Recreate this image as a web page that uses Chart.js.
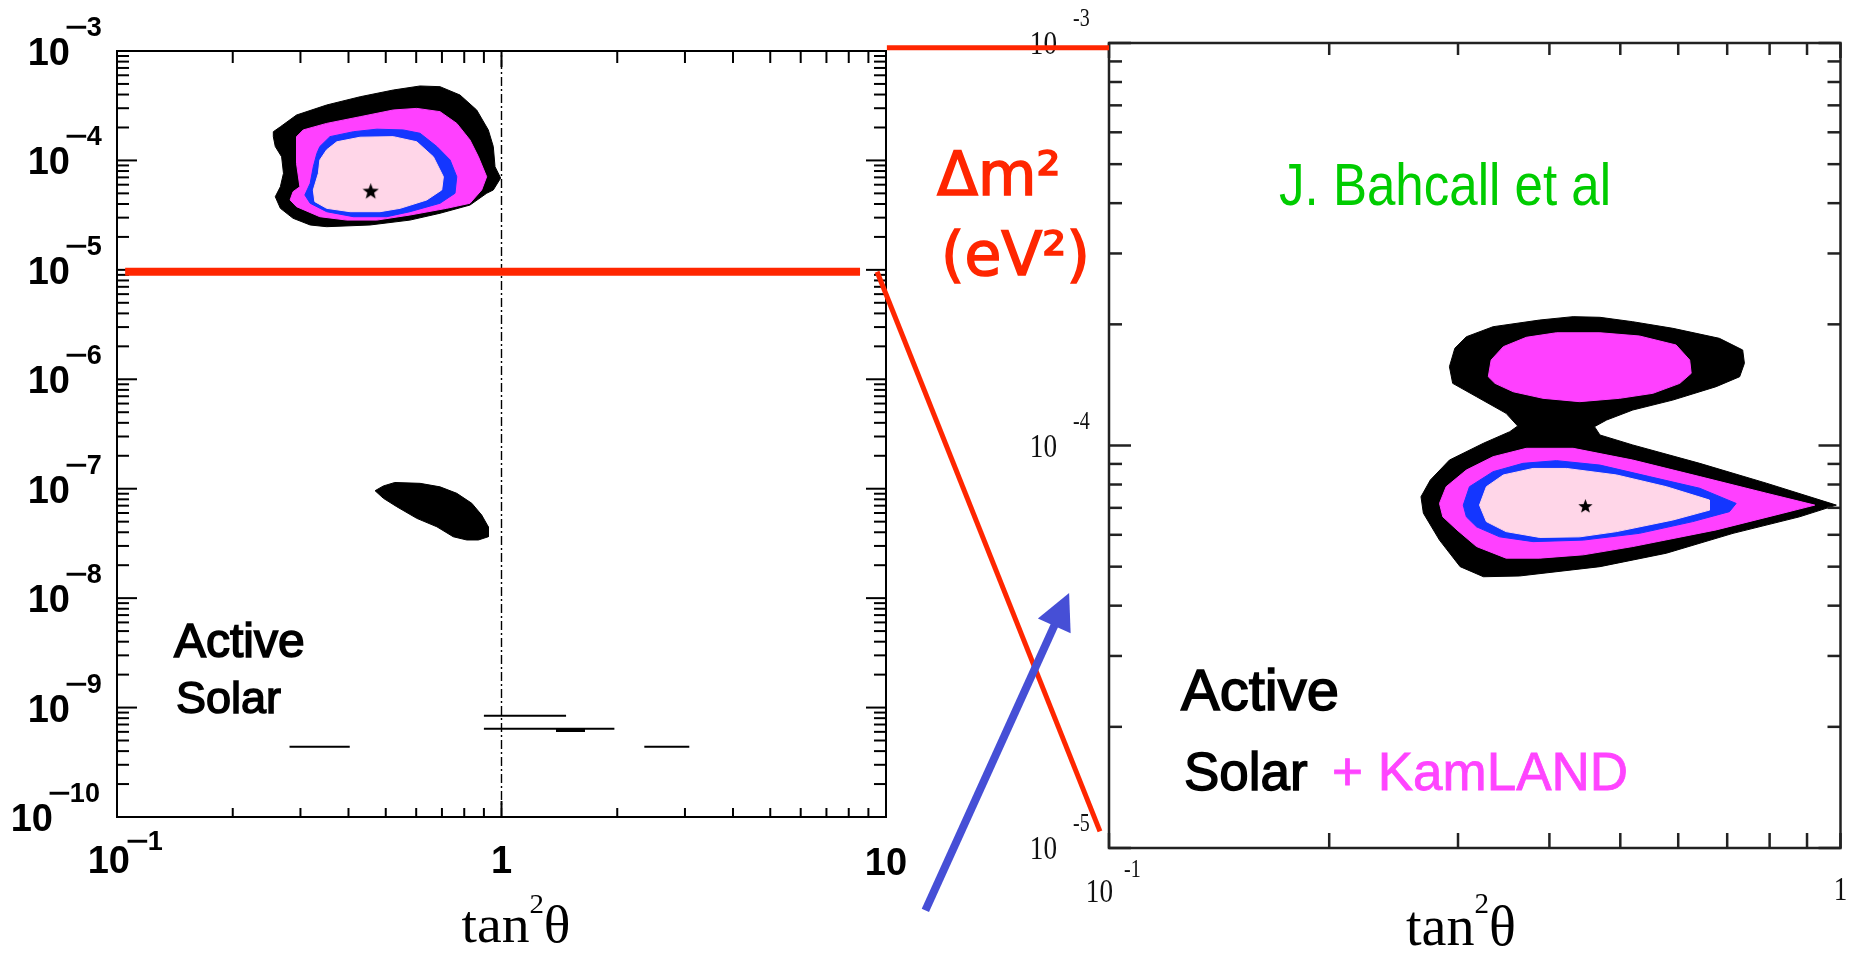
<!DOCTYPE html>
<html>
<head>
<meta charset="utf-8">
<title>Active Solar / Solar + KamLAND</title>
<script src="https://cdn.jsdelivr.net/npm/chart.js@4.4.1/dist/chart.umd.min.js"></script>
<style>
    html, body { margin: 0; padding: 0; background: #fff; }
    #wrap { position: relative; width: 1849px; height: 953px; }
    #wrap canvas { position: absolute; left: 0; top: 0; }
</style>
</head>
<body>
<div id="wrap">
    <canvas id="solarCanvas" width="1849" height="953"></canvas>
    <canvas id="kamlandCanvas" width="1849" height="953"></canvas>
</div>
<script>
"use strict";

// ---- left panel: Active Solar, [tan^2 theta, dm^2 (eV^2)] ----
const solarLma3sigma = [
    [0.255, 1.83e-4], [0.266, 2.03e-4], [0.293, 2.60e-4], [0.351, 3.21e-4], [0.429, 3.82e-4],
    [0.523, 4.40e-4], [0.614, 4.79e-4], [0.692, 4.72e-4], [0.780, 3.96e-4], [0.862, 2.89e-4],
    [0.924, 1.90e-4], [0.952, 1.34e-4], [0.962, 8.76e-5], [0.995, 6.90e-5], [0.952, 5.37e-5],
    [0.915, 5.01e-5], [0.828, 3.91e-5], [0.692, 3.29e-5], [0.578, 2.85e-5], [0.455, 2.57e-5],
    [0.351, 2.48e-5], [0.318, 2.57e-5], [0.287, 2.96e-5], [0.266, 3.65e-5], [0.258, 4.66e-5],
    [0.266, 5.75e-5], [0.271, 7.63e-5], [0.268, 1.08e-4], [0.258, 1.34e-4], [0.255, 1.65e-4]
];
const solarLma99 = [
    [0.293, 1.65e-4], [0.305, 1.90e-4], [0.351, 2.18e-4], [0.429, 2.51e-4], [0.523, 2.89e-4],
    [0.602, 2.99e-4], [0.692, 2.79e-4], [0.765, 2.18e-4], [0.828, 1.54e-4], [0.871, 1.08e-4],
    [0.915, 7.10e-5], [0.888, 5.37e-5], [0.828, 4.06e-5], [0.720, 3.65e-5], [0.578, 3.17e-5],
    [0.474, 2.85e-5], [0.396, 2.85e-5], [0.337, 3.06e-5], [0.293, 3.78e-5], [0.282, 4.35e-5],
    [0.287, 5.18e-5], [0.299, 5.75e-5], [0.293, 9.41e-5], [0.293, 1.34e-4]
];
const solarLma95 = [
    [0.337, 1.34e-4], [0.358, 1.65e-4], [0.412, 1.83e-4], [0.474, 1.93e-4], [0.555, 1.90e-4],
    [0.614, 1.77e-4], [0.679, 1.34e-4], [0.735, 1.01e-4], [0.765, 7.10e-5], [0.757, 5.01e-5],
    [0.692, 4.06e-5], [0.578, 3.40e-5], [0.503, 3.06e-5], [0.412, 3.06e-5], [0.351, 3.40e-5],
    [0.318, 4.06e-5], [0.308, 4.83e-5], [0.318, 6.18e-5], [0.324, 8.76e-5], [0.331, 1.16e-4]
];
const solarLma90 = [
    [0.351, 1.25e-4], [0.373, 1.48e-4], [0.429, 1.63e-4], [0.523, 1.65e-4], [0.602, 1.48e-4],
    [0.665, 1.08e-4], [0.706, 7.10e-5], [0.699, 5.37e-5], [0.639, 4.35e-5], [0.545, 3.65e-5],
    [0.483, 3.40e-5], [0.404, 3.40e-5], [0.351, 3.65e-5], [0.327, 4.20e-5], [0.324, 5.37e-5],
    [0.334, 7.63e-5], [0.337, 1.01e-4]
];
const solarLow3sigma = [
    [0.469, 9.59e-8], [0.493, 1.06e-7], [0.528, 1.14e-7], [0.614, 1.12e-7], [0.692, 1.04e-7],
    [0.765, 9.08e-8], [0.837, 7.36e-8], [0.888, 5.75e-8], [0.924, 4.49e-8], [0.924, 3.64e-8],
    [0.871, 3.40e-8], [0.812, 3.40e-8], [0.749, 3.64e-8], [0.679, 4.49e-8], [0.602, 5.36e-8],
    [0.534, 6.85e-8], [0.493, 8.17e-8]
];
// thin vacuum islands: [tan2 from, tan2 to, dm2]
const solarVacIslands = [
    [0.281, 0.403, 4.39e-10], [0.900, 1.472, 8.43e-10], [0.900, 1.966, 6.42e-10], [2.352, 3.079, 4.39e-10]
];
const solarVacThick = [1.386, 1.649, 6.24e-10];
const solarBestFit = [0.457, 5.18e-5];

// ---- right panel: Solar + KamLAND ----
const kamland3sigma = [
    [0.292, 1.570e-4], [0.297, 1.744e-4], [0.308, 1.863e-4], [0.335, 1.973e-4], [0.388, 2.050e-4],
    [0.431, 2.090e-4], [0.469, 2.082e-4], [0.520, 2.030e-4], [0.590, 1.955e-4], [0.683, 1.846e-4],
    [0.735, 1.727e-4], [0.739, 1.600e-4], [0.728, 1.482e-4], [0.676, 1.400e-4], [0.590, 1.297e-4],
    [0.520, 1.225e-4], [0.479, 1.157e-4], [0.461, 1.114e-4], [0.469, 1.062e-4], [0.520, 1.003e-4],
    [0.642, 9.03e-5], [0.792, 8.06e-5], [0.987, 7.11e-5], [0.879, 6.65e-5], [0.713, 6.05e-5],
    [0.578, 5.40e-5], [0.469, 5.00e-5], [0.364, 4.74e-5], [0.325, 4.72e-5], [0.302, 5.00e-5],
    [0.283, 5.82e-5], [0.269, 6.79e-5], [0.267, 7.46e-5], [0.275, 8.21e-5], [0.292, 9.20e-5],
    [0.325, 1.013e-4], [0.353, 1.082e-4], [0.362, 1.118e-4], [0.349, 1.202e-4], [0.318, 1.322e-4],
    [0.295, 1.427e-4]
];
const kamland99Upper = [
    [0.330, 1.482e-4], [0.333, 1.631e-4], [0.346, 1.760e-4], [0.372, 1.857e-4], [0.409, 1.906e-4],
    [0.469, 1.906e-4], [0.531, 1.871e-4], [0.596, 1.777e-4], [0.622, 1.631e-4], [0.625, 1.511e-4],
    [0.603, 1.427e-4], [0.554, 1.348e-4], [0.499, 1.310e-4], [0.440, 1.285e-4], [0.392, 1.310e-4],
    [0.357, 1.360e-4], [0.337, 1.427e-4]
];
const kamland99Lower = [
    [0.283, 7.18e-5], [0.289, 7.90e-5], [0.308, 8.69e-5], [0.335, 9.38e-5], [0.372, 9.84e-5],
    [0.431, 9.84e-5], [0.520, 9.20e-5], [0.642, 8.37e-5], [0.792, 7.61e-5], [0.922, 7.11e-5],
    [0.834, 6.79e-5], [0.676, 6.17e-5], [0.520, 5.61e-5], [0.445, 5.35e-5], [0.388, 5.25e-5],
    [0.349, 5.25e-5], [0.318, 5.61e-5], [0.299, 6.17e-5], [0.286, 6.65e-5]
];
const kamland95 = [
    [0.305, 7.11e-5], [0.311, 7.90e-5], [0.335, 8.61e-5], [0.368, 9.03e-5], [0.409, 9.17e-5],
    [0.469, 8.94e-5], [0.548, 8.37e-5], [0.642, 7.83e-5], [0.720, 7.18e-5], [0.705, 6.85e-5],
    [0.628, 6.47e-5], [0.531, 6.05e-5], [0.445, 5.82e-5], [0.380, 5.77e-5], [0.342, 5.93e-5],
    [0.318, 6.28e-5], [0.308, 6.65e-5]
];
const kamland90 = [
    [0.321, 7.11e-5], [0.328, 7.90e-5], [0.346, 8.45e-5], [0.380, 8.77e-5], [0.422, 8.77e-5],
    [0.494, 8.45e-5], [0.578, 7.90e-5], [0.662, 7.32e-5], [0.662, 6.91e-5], [0.590, 6.53e-5],
    [0.494, 6.11e-5], [0.440, 5.93e-5], [0.388, 5.91e-5], [0.349, 6.11e-5], [0.328, 6.47e-5]
];
const kamlandBestFit = [0.448, 7.05e-5];

// ---- axes / ticks ----
const leftXMajor = [0.1, 1, 10];
const leftXMinor = [0.2, 0.3, 0.4, 0.5, 0.6, 0.7, 0.8, 0.9, 2, 3, 4, 5, 6, 7, 8, 9];
const leftYExponents = [-3, -4, -5, -6, -7, -8, -9, -10];
const rightXMajor = [0.1, 1];
const rightXMinor = [0.2, 0.3, 0.4, 0.5, 0.6, 0.7, 0.8, 0.9];
const rightYExponents = [-3, -4, -5];
const minorMantissas = [2, 3, 4, 5, 6, 7, 8, 9];

// ---- annotations (in panel coordinates) ----
const zoomBandLeft = [[0.105, 9.6e-6], [8.56, 9.6e-6]];      // left panel
const zoomDiagFromLeft = [9.48, 9.6e-6];                      // left panel
const zoomDiagToRight = [0.0972, 1.10e-5];                    // right panel
const zoomTopRight = [[0.0497, 9.73e-4], [0.1, 9.73e-4]];     // right panel
const arrowRight = [[0.0561, 7.0e-6], [0.0882, 4.30e-5]];     // right panel, tail -> tip

const BLACK = '#000000';
const MAGENTA = '#ff40ff';
const BLUE = '#1436ff';
const PINK = '#ffd6e8';
const RED = '#ff2600';
const SANS = '"Liberation Sans", Arial, Helvetica, sans-serif';
const SERIF = '"Liberation Serif", "Times New Roman", serif';

function makeStar(size) {
    const c = document.createElement('canvas');
    c.width = size;
    c.height = size;
    const g = c.getContext('2d');
    g.fillStyle = '#000';
    g.beginPath();
    for (let i = 0; i < 10; i++) {
        const r = i % 2 ? size * 0.21 : size * 0.5;
        const ang = -Math.PI / 2 + i * Math.PI / 5;
        g.lineTo(size / 2 + r * Math.cos(ang), size / 2 + r * Math.sin(ang));
    }
    g.closePath();
    g.fill();
    return c;
}

function toXY(points) {
    return points.map(p => ({x: p[0], y: p[1]}));
}

function region(points, color, order) {
    const data = toXY(points);
    data.push({x: points[0][0], y: points[0][1]});
    return {
        data: data,
        borderColor: color,
        backgroundColor: color,
        borderWidth: 1,
        fill: 'shape',
        pointRadius: 0,
        tension: 0,
        order: order
    };
}

function hLine(from, to, y, width, order) {
    return {
        data: [{x: from, y: y}, {x: to, y: y}],
        borderColor: BLACK,
        borderWidth: width,
        fill: false,
        pointRadius: 0,
        order: order
    };
}

function bestFit(point, size) {
    return {
        data: toXY([point]),
        showLine: false,
        pointStyle: makeStar(size),
        pointRadius: size / 2,
        order: 0
    };
}

function seg(ctx, x1, y1, x2, y2) {
    ctx.beginPath();
    ctx.moveTo(x1, y1);
    ctx.lineTo(x2, y2);
    ctx.stroke();
}

function scaledText(ctx, text, x, y, font, align, sx) {
    ctx.save();
    ctx.translate(x, y);
    ctx.scale(sx, 1);
    ctx.font = font;
    ctx.textAlign = align;
    ctx.textBaseline = 'alphabetic';
    ctx.fillText(text, 0, 0);
    ctx.restore();
}

// ROOT style exponent with a wide minus sign
function rootExponent(ctx, digits, x, baseline, size) {
    ctx.save();
    ctx.font = 'bold ' + size + 'px ' + SANS;
    ctx.textAlign = 'left';
    ctx.textBaseline = 'alphabetic';
    const mw = ctx.measureText('\u2212').width * 1.45;
    ctx.translate(x, baseline);
    ctx.save();
    ctx.scale(1.45, 1);
    ctx.fillText('\u2212', 0, 0);
    ctx.restore();
    ctx.fillText(digits, mw - 1, 0);
    ctx.restore();
}

function boldText(ctx, text, x, y, size, color, weight) {
    ctx.save();
    ctx.font = size + 'px ' + SANS;
    ctx.fillStyle = color;
    ctx.strokeStyle = color;
    ctx.lineWidth = weight || size / 30;
    ctx.textAlign = 'left';
    ctx.textBaseline = 'alphabetic';
    ctx.fillText(text, x, y);
    ctx.strokeText(text, x, y);
    ctx.restore();
}

function tan2Theta(ctx, cx, baseline, size, targetW) {
    const big = size + 'px ' + SERIF;
    const small = Math.round(size * 0.52) + 'px ' + SERIF;
    ctx.save();
    ctx.font = big;
    const w1 = ctx.measureText('tan').width;
    const w3 = ctx.measureText('\u03b8').width;
    ctx.font = small;
    const w2 = ctx.measureText('2').width;
    const k = targetW / (w1 + w2 + w3);
    ctx.translate(cx - targetW / 2, baseline);
    ctx.scale(k, 1);
    ctx.fillStyle = '#000';
    ctx.textAlign = 'left';
    ctx.textBaseline = 'alphabetic';
    ctx.font = big;
    ctx.fillText('tan', 0, 0);
    ctx.font = small;
    ctx.fillText('2', w1, -size * 0.56);
    ctx.font = big;
    ctx.fillText('\u03b8', w1 + w2, 0);
    ctx.restore();
}

function frameAndTicks(chart, o) {
    const {ctx, chartArea: a} = chart;
    const sx = chart.scales.x;
    const sy = chart.scales.y;

    ctx.save();
    ctx.strokeStyle = o.color;
    ctx.lineCap = 'butt';
    ctx.lineWidth = o.tickWidth;

    o.xMinor.forEach(v => {
        const px = sx.getPixelForValue(v);
        seg(ctx, px, a.bottom, px, a.bottom - o.xBottomLen);
        seg(ctx, px, a.top, px, a.top + o.xTopLen);
    });
    o.xMajor.forEach(v => {
        const px = sx.getPixelForValue(v);
        seg(ctx, px, a.bottom, px, a.bottom - o.xMajorLen);
        seg(ctx, px, a.top, px, a.top + o.xMajorLen);
    });

    o.yExponents.forEach(e => {
        const py = sy.getPixelForValue(Math.pow(10, e));
        seg(ctx, a.left, py, a.left + o.yMajorLen, py);
        seg(ctx, a.right, py, a.right - o.yMajorLen, py);
        minorMantissas.forEach(m => {
            const v = m * Math.pow(10, e);
            if (v >= sy.max) {
                return;
            }
            const pm = sy.getPixelForValue(v);
            seg(ctx, a.left, pm, a.left + o.yMinorLen, pm);
            seg(ctx, a.right, pm, a.right - o.yMinorLen, pm);
        });
    });

    ctx.lineWidth = o.frameWidth;
    ctx.strokeRect(a.left, a.top, a.right - a.left, a.bottom - a.top);
    ctx.restore();
}

// ---------------- left panel ----------------
const solarDecor = {
    id: 'solarDecor',
    afterDraw: (chart) => {
        const {ctx, chartArea: a} = chart;
        const sx = chart.scales.x;
        const sy = chart.scales.y;

        frameAndTicks(chart, {
            color: '#000', frameWidth: 2, tickWidth: 2,
            xMajor: leftXMajor, xMinor: leftXMinor,
            xBottomLen: 9, xTopLen: 12, xMajorLen: 16,
            yExponents: leftYExponents, yMajorLen: 20, yMinorLen: 12
        });

        ctx.save();
        ctx.fillStyle = '#000';

        // y labels 10^-n
        leftYExponents.forEach(e => {
            const py = sy.getPixelForValue(Math.pow(10, e));
            const digits = String(Math.abs(e));
            const tenRight = a.left - (digits.length > 1 ? 64 : 47);
            ctx.font = 'bold 38px ' + SANS;
            ctx.textAlign = 'right';
            ctx.textBaseline = 'alphabetic';
            ctx.fillText('10', tenRight, py + 14);
            rootExponent(ctx, digits, tenRight - 5, py - 15, 27);
        });

        // x labels
        const p01 = sx.getPixelForValue(0.1);
        ctx.font = 'bold 38px ' + SANS;
        ctx.textAlign = 'right';
        ctx.fillText('10', p01 + 13, a.bottom + 56);
        rootExponent(ctx, '1', p01 + 9, a.bottom + 33, 27);
        ctx.textAlign = 'center';
        ctx.fillText('1', sx.getPixelForValue(1), a.bottom + 56);
        ctx.fillText('10', sx.getPixelForValue(10), a.bottom + 58);

        tan2Theta(ctx, 516, a.bottom + 125, 52, 109);

        boldText(ctx, 'Active', 174, 657, 48, '#000');
        boldText(ctx, 'Solar', 176, 713, 45, '#000');

        // zoom band marker
        ctx.strokeStyle = RED;
        ctx.lineWidth = 8;
        seg(ctx,
            sx.getPixelForValue(zoomBandLeft[0][0]), sy.getPixelForValue(zoomBandLeft[0][1]),
            sx.getPixelForValue(zoomBandLeft[1][0]), sy.getPixelForValue(zoomBandLeft[1][1]));
        ctx.restore();
    }
};

const solarDatasets = [
    {
        data: [{x: 1, y: 1e-10}, {x: 1, y: 1e-3}],
        borderColor: '#000',
        borderWidth: 1.4,
        borderDash: [9, 3, 2, 3],
        fill: false,
        pointRadius: 0,
        order: 10
    },
    region(solarLma3sigma, BLACK, 5),
    region(solarLma99, MAGENTA, 4),
    region(solarLma95, BLUE, 3),
    region(solarLma90, PINK, 2),
    region(solarLow3sigma, BLACK, 5),
    bestFit(solarBestFit, 17)
];
solarVacIslands.forEach(v => solarDatasets.push(hLine(v[0], v[1], v[2], 2, 6)));
solarDatasets.push(hLine(solarVacThick[0], solarVacThick[1], solarVacThick[2], 4, 6));

const solarChart = new Chart(document.getElementById('solarCanvas'), {
    type: 'line',
    data: {datasets: solarDatasets},
    options: {
        responsive: false,
        animation: false,
        devicePixelRatio: 1,
        events: [],
        layout: {padding: {left: 117, top: 51, right: 963, bottom: 136}},
        plugins: {legend: {display: false}, tooltip: {enabled: false}},
        scales: {
            x: {type: 'logarithmic', min: 0.1, max: 10, display: false},
            y: {type: 'logarithmic', min: 1e-10, max: 1e-3, display: false}
        }
    },
    plugins: [solarDecor]
});

// ---------------- right panel ----------------
const kamlandDecor = {
    id: 'kamlandDecor',
    afterDraw: (chart) => {
        const {ctx, chartArea: a} = chart;
        const sx = chart.scales.x;
        const sy = chart.scales.y;

        frameAndTicks(chart, {
            color: '#222', frameWidth: 2.5, tickWidth: 2.5,
            xMajor: rightXMajor, xMinor: rightXMinor,
            xBottomLen: 15, xTopLen: 12, xMajorLen: 15,
            yExponents: rightYExponents, yMajorLen: 22, yMinorLen: 13
        });

        ctx.save();
        ctx.fillStyle = '#111';
        rightYExponents.forEach(e => {
            const py = sy.getPixelForValue(Math.pow(10, e));
            scaledText(ctx, '10', a.left - 52, py + 11, '34px ' + SERIF, 'right', 0.8);
            scaledText(ctx, '-' + Math.abs(e), a.left - 36, py - 17, '25px ' + SERIF, 'left', 0.8);
        });
        const p01 = sx.getPixelForValue(0.1);
        scaledText(ctx, '10', p01 + 4, a.bottom + 54, '34px ' + SERIF, 'right', 0.8);
        scaledText(ctx, '-1', p01 + 15, a.bottom + 29, '25px ' + SERIF, 'left', 0.8);
        scaledText(ctx, '1', sx.getPixelForValue(1), a.bottom + 52, '34px ' + SERIF, 'center', 0.8);

        tan2Theta(ctx, 1461, a.bottom + 97, 58, 110);

        // green credit, condensed to its width in the original
        ctx.save();
        ctx.font = '60px ' + SANS;
        const credit = 'J. Bahcall et al';
        const cw = ctx.measureText(credit).width;
        ctx.fillStyle = '#00cc00';
        scaledText(ctx, credit, 1279, 205, '60px ' + SANS, 'left', 332 / cw);
        ctx.restore();

        boldText(ctx, 'Active', 1181, 710, 58, '#000', 1.6);
        boldText(ctx, 'Solar', 1184, 790, 53, '#000', 1.4);
        boldText(ctx, '+ KamLAND', 1332, 790, 53, '#ff44ff', 0.8);

        // axis quantity
        ctx.fillStyle = RED;
        ctx.strokeStyle = RED;
        ctx.lineWidth = 1.6;
        ctx.font = '60px "DejaVu Sans", sans-serif';
        ctx.textAlign = 'left';
        ctx.fillText('\u0394m\u00b2', 937, 195);
        ctx.strokeText('\u0394m\u00b2', 937, 195);
        ctx.fillText('(eV\u00b2)', 941, 275);
        ctx.strokeText('(eV\u00b2)', 941, 275);

        // red zoom connectors
        const ls = solarChart.scales;
        ctx.strokeStyle = RED;
        ctx.lineWidth = 5;
        seg(ctx,
            sx.getPixelForValue(zoomTopRight[0][0]), sy.getPixelForValue(zoomTopRight[0][1]),
            sx.getPixelForValue(zoomTopRight[1][0]), sy.getPixelForValue(zoomTopRight[1][1]));
        seg(ctx,
            ls.x.getPixelForValue(zoomDiagFromLeft[0]), ls.y.getPixelForValue(zoomDiagFromLeft[1]),
            sx.getPixelForValue(zoomDiagToRight[0]), sy.getPixelForValue(zoomDiagToRight[1]));

        // blue arrow
        const tx = sx.getPixelForValue(arrowRight[0][0]);
        const ty = sy.getPixelForValue(arrowRight[0][1]);
        const hx = sx.getPixelForValue(arrowRight[1][0]);
        const hy = sy.getPixelForValue(arrowRight[1][1]);
        const len = Math.hypot(hx - tx, hy - ty);
        const ux = (hx - tx) / len;
        const uy = (hy - ty) / len;
        const bx = hx - ux * 36;
        const by = hy - uy * 36;
        ctx.strokeStyle = '#464fd6';
        ctx.fillStyle = '#464fd6';
        ctx.lineWidth = 8;
        seg(ctx, tx, ty, bx + ux * 4, by + uy * 4);
        ctx.beginPath();
        ctx.moveTo(hx, hy);
        ctx.lineTo(bx - uy * 18, by + ux * 18);
        ctx.lineTo(bx + uy * 18, by - ux * 18);
        ctx.closePath();
        ctx.fill();
        ctx.restore();
    }
};

const kamlandChart = new Chart(document.getElementById('kamlandCanvas'), {
    type: 'line',
    data: {
        datasets: [
            region(kamland3sigma, BLACK, 5),
            region(kamland99Upper, MAGENTA, 4),
            region(kamland99Lower, MAGENTA, 4),
            region(kamland95, BLUE, 3),
            region(kamland90, PINK, 2),
            bestFit(kamlandBestFit, 15)
        ]
    },
    options: {
        responsive: false,
        animation: false,
        devicePixelRatio: 1,
        events: [],
        layout: {padding: {left: 1109, top: 43, right: 8, bottom: 105}},
        plugins: {legend: {display: false}, tooltip: {enabled: false}},
        scales: {
            x: {type: 'logarithmic', min: 0.1, max: 1, display: false},
            y: {type: 'logarithmic', min: 1e-5, max: 1e-3, display: false}
        }
    },
    plugins: [kamlandDecor]
});
</script>
</body>
</html>
